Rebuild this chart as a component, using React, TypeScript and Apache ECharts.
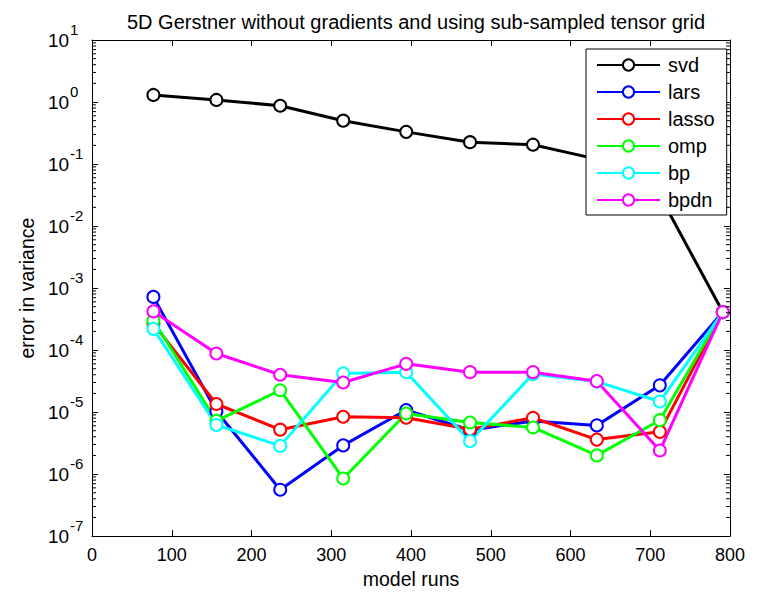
import React, { useEffect, useRef } from 'react';
import * as echarts from 'echarts';

const modelRuns = [77, 156, 236, 315, 394, 474, 553, 633, 712, 791];
const svd = [1.3, 1.08, 0.87, 0.5, 0.33, 0.225, 0.205, 0.12, 0.031, 4.1e-4];
const lars = [7.2e-4, 1.03e-5, 5.6e-7, 2.9e-6, 1.08e-5, 5.1e-6, 7.2e-6, 6.1e-6, 2.7e-5, 4.1e-4];
const lasso = [2.65e-4, 1.35e-5, 5.2e-6, 8.4e-6, 8.1e-6, 5.3e-6, 8.1e-6, 3.6e-6, 4.8e-6, 4.1e-4];
const omp = [3.0e-4, 7.2e-6, 2.25e-5, 8.5e-7, 9.5e-6, 6.8e-6, 5.65e-6, 2.0e-6, 7.4e-6, 4.1e-4];
const bp = [2.2e-4, 6.2e-6, 2.85e-6, 4.2e-5, 4.4e-5, 3.4e-6, 4.1e-5, 3.1e-5, 1.48e-5, 4.1e-4];
const bpdn = [4.2e-4, 8.8e-5, 4.0e-5, 3.0e-5, 6.0e-5, 4.4e-5, 4.4e-5, 3.15e-5, 2.4e-6, 4.1e-4];

const seriesNames = ['svd', 'lars', 'lasso', 'omp', 'bp', 'bpdn'];
const seriesValues = [svd, lars, lasso, omp, bp, bpdn];
const seriesColors = ['#000000', '#0000ff', '#ff0000', '#00ff00', '#00ffff', '#ff00ff'];

const xMin = 0;
const xMax = 800;
const xStep = 100;
const yMin = 1e-7;
const yMax = 10;
const decadeExponents = [-7, -6, -5, -4, -3, -2, -1, 0];
const minorMultipliers = [2, 3, 4, 5, 6, 7, 8, 9];

const titleText = '5D Gerstner without gradients and using sub-sampled tensor grid';
const xName = 'model runs';
const yName = 'error in variance';

const FONT = '"Liberation Sans", Arial, Helvetica, sans-serif';

export default function App() {
  const ref = useRef<HTMLDivElement>(null);
  useEffect(() => {
    if (!ref.current) return;
    const chart = echarts.init(ref.current, undefined, { renderer: 'svg' });

    const minorVals: number[][] = [];
    decadeExponents.forEach((e) => {
      minorMultipliers.forEach((m) => minorVals.push([0, m * Math.pow(10, e)]));
    });

    const lineSeries = seriesNames.map((name, i) => ({
      name,
      type: 'line',
      xAxisIndex: 0,
      yAxisIndex: 0,
      data: modelRuns.map((x, j) => [x, seriesValues[i][j]]),
      symbol: 'emptyCircle',
      symbolSize: 12,
      showSymbol: true,
      lineStyle: { width: 3, color: seriesColors[i] },
      itemStyle: { color: seriesColors[i], borderWidth: 2.5 },
      emphasis: { disabled: true },
      z: 3,
    }));

    const yAxisBase = {
      type: 'log',
      logBase: 10,
      min: yMin,
      max: yMax,
      splitLine: { show: false },
      axisLine: { show: true, onZero: false, lineStyle: { color: '#000', width: 1 } },
      axisTick: { show: true, inside: true, length: 6, lineStyle: { color: '#000', width: 1 } },
    };
    const xAxisBase = {
      type: 'value',
      min: xMin,
      max: xMax,
      interval: xStep,
      splitLine: { show: false },
      axisLine: { show: true, onZero: false, lineStyle: { color: '#000', width: 1 } },
      axisTick: { show: true, inside: true, length: 6, lineStyle: { color: '#000', width: 1 } },
    };

    chart.setOption({
      animation: false,
      backgroundColor: '#fff',
      textStyle: { fontFamily: FONT },
      title: {
        text: titleText,
        left: 411,
        textAlign: 'center',
        top: 7,
        textStyle: { fontFamily: FONT, fontSize: 20, fontWeight: 'normal', color: '#000' },
      },
      grid: { left: 92, right: 27, top: 40, bottom: 44, containLabel: false },
      legend: {
        data: seriesNames,
        orient: 'vertical',
        left: 586,
        top: 49,
        itemWidth: 63,
        itemHeight: 14,
        itemGap: 7,
        padding: [6, 12, 5, 10],
        borderColor: '#000',
        borderWidth: 1,
        backgroundColor: '#fff',
        textStyle: { fontFamily: FONT, fontSize: 20, color: '#000', padding: [0, 0, 0, 3] },
        z: 10,
      },
      xAxis: [
        {
          ...xAxisBase,
          position: 'bottom',
          name: xName,
          nameLocation: 'middle',
          nameGap: 30,
          nameTextStyle: { fontFamily: FONT, fontSize: 19.5, color: '#000' },
          axisLabel: { show: true, margin: 10, fontFamily: FONT, fontSize: 18, color: '#000' },
        },
        {
          ...xAxisBase,
          position: 'top',
          axisLabel: { show: false },
        },
      ],
      yAxis: [
        {
          ...yAxisBase,
          position: 'left',
          name: yName,
          nameLocation: 'middle',
          nameGap: 46,
          nameTextStyle: { fontFamily: FONT, fontSize: 19.5, color: '#000' },
          axisLabel: {
            show: true,
            margin: 44,
            align: 'left',
            verticalAlign: 'middle',
            fontFamily: FONT,
            fontSize: 19,
            color: '#000',
            formatter: () => '10',
          },
        },
        {
          ...yAxisBase,
          position: 'right',
          axisLabel: { show: false },
        },
        {
          ...yAxisBase,
          position: 'left',
          axisLine: { show: false },
          axisTick: { show: false },
          axisLabel: {
            show: true,
            margin: 22,
            align: 'left',
            verticalAlign: 'bottom',
            padding: [0, 0, 3, 0],
            fontFamily: FONT,
            fontSize: 15,
            color: '#000',
            formatter: (v: number) => `${Math.round(Math.log10(v))}`,
          },
        },
      ],
      series: [
        {
          type: 'custom',
          name: 'minorTicks',
          xAxisIndex: 0,
          yAxisIndex: 0,
          silent: true,
          clip: false,
          z: 5,
          encode: { x: 0, y: 1 },
          data: minorVals,
          renderItem: (params: any, api: any) => {
            const v = api.value(1);
            const l = api.coord([xMin, v]);
            const r = api.coord([xMax, v]);
            return {
              type: 'group',
              children: [
                { type: 'line', shape: { x1: l[0], y1: l[1], x2: l[0] + 4, y2: l[1] }, style: { stroke: '#000', lineWidth: 1 } },
                { type: 'line', shape: { x1: r[0], y1: r[1], x2: r[0] - 4, y2: r[1] }, style: { stroke: '#000', lineWidth: 1 } },
              ],
            };
          },
        },
        ...lineSeries,
      ],
    });
    return () => chart.dispose();
  }, []);
  return <div ref={ref} style={{ position: 'absolute', left: 0, top: 0, width: 757, height: 594 }} />;
}
